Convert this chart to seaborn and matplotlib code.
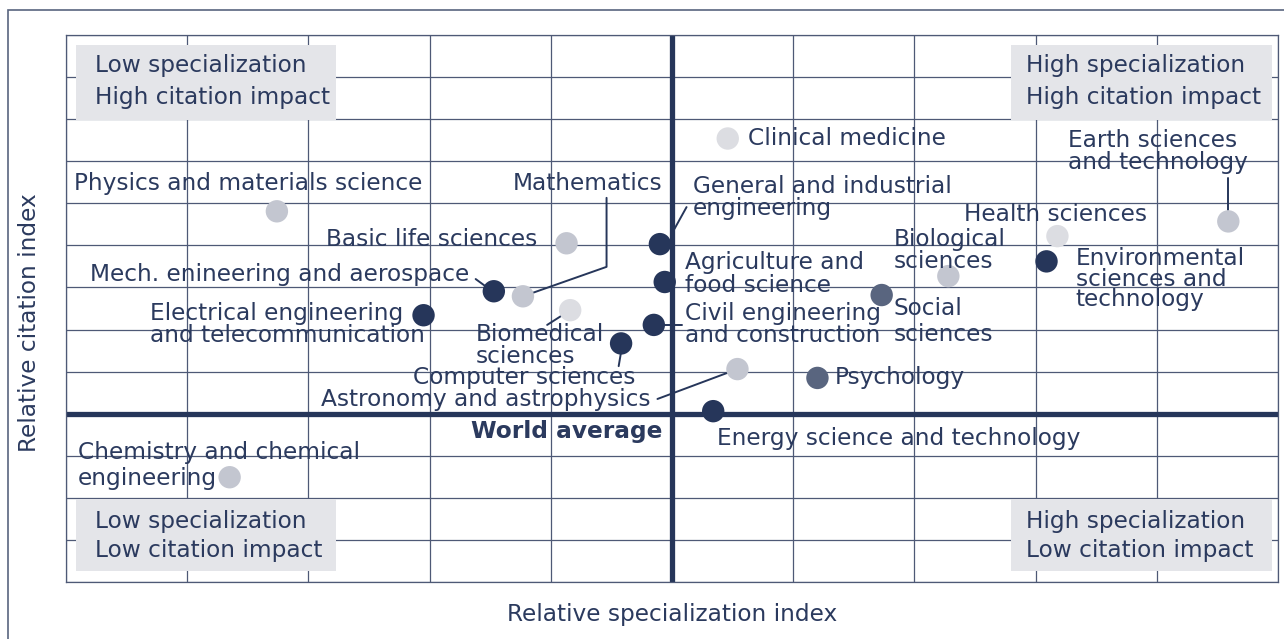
import matplotlib
matplotlib.use("Agg")
import matplotlib.pyplot as plt
import seaborn as sns
import pandas as pd
from matplotlib.patches import Rectangle
from matplotlib.lines import Line2D

# ---------------- data ----------------
fields = [
    "Clinical medicine", "Physics and materials science", "Basic life sciences",
    "General and industrial engineering", "Agriculture and food science",
    "Mech. enineering and aerospace", "Mathematics", "Biomedical sciences",
    "Electrical engineering and telecommunication", "Civil engineering and construction",
    "Computer sciences", "Astronomy and astrophysics", "Energy science and technology",
    "Psychology", "Social sciences", "Biological sciences", "Health sciences",
    "Environmental sciences and technology", "Earth sciences and technology",
    "Chemistry and chemical engineering",
]
specialization = [0.46, -3.26, -0.87, -0.10, -0.06, -1.47, -1.23, -0.84, -2.05, -0.15,
                  -0.42, 0.54, 0.34, 1.20, 1.73, 2.28, 3.18, 3.09, 4.59, -3.65]
citation = [6.54, 4.81, 4.05, 4.03, 3.13, 2.91, 2.79, 2.46, 2.34, 2.11,
            1.67, 1.06, 0.06, 0.85, 2.82, 3.27, 4.22, 3.62, 4.57, -1.51]
group = ["light", "gray", "gray", "dark", "dark", "dark", "gray", "light", "dark", "dark",
         "dark", "gray", "dark", "mid", "mid", "gray", "light", "dark", "gray", "gray"]

# label text, anchor (x, y), horizontal alignment, line spacing
labels = [
    ("Clinical medicine", 0.63, 6.53, "left", 1.0),
    ("Earth sciences\nand technology", 3.27, 6.24, "left", 0.95),
    ("Physics and materials science", -4.93, 5.46, "left", 1.0),
    ("Mathematics", -0.08, 5.46, "right", 1.0),
    ("General and industrial\nengineering", 0.17, 5.14, "left", 0.95),
    ("Health sciences", 2.41, 4.74, "left", 1.0),
    ("Basic life sciences", -1.11, 4.13, "right", 1.0),
    ("Biological\nsciences", 1.83, 3.87, "left", 0.95),
    ("Environmental\nsciences and\ntechnology", 3.33, 3.20, "left", 0.87),
    ("Agriculture and\nfood science", 0.11, 3.32, "left", 0.95),
    ("Mech. enineering and aerospace", -1.67, 3.30, "right", 1.0),
    ("Electrical engineering\nand telecommunication", -4.31, 2.13, "left", 0.95),
    ("Social\nsciences", 1.83, 2.19, "left", 1.17),
    ("Civil engineering\nand construction", 0.11, 2.13, "left", 0.95),
    ("Biomedical\nsciences", -1.62, 1.61, "left", 0.95),
    ("Computer sciences", -2.14, 0.85, "left", 1.0),
    ("Astronomy and astrophysics", -0.18, 0.33, "right", 1.0),
    ("Psychology", 1.34, 0.85, "left", 1.0),
    ("Energy science and technology", 0.37, -0.60, "left", 1.0),
    ("Chemistry and chemical\nengineering", -4.90, -1.23, "left", 1.17),
]

# leader lines (polyline vertices)
leaders = [
    [(4.59, 5.60), (4.59, 4.84)],
    [(-0.54, 5.13), (-0.54, 3.49), (-1.23, 2.79)],
    [(0.12, 4.91), (0.02, 4.39)],
    [(-1.62, 3.20), (-1.53, 3.01)],
    [(-0.15, 2.11), (0.08, 2.11)],
    [(-1.03, 2.11), (-0.84, 2.46)],
    [(-0.44, 1.13), (-0.42, 1.47)],
    [(-0.12, 0.35), (0.54, 1.06)],
]

quadrants = [
    ("Low specialization", "High citation impact", "tl"),
    ("High specialization", "High citation impact", "tr"),
    ("Low specialization", "Low citation impact", "bl"),
    ("High specialization", "Low citation impact", "br"),
]

# ---------------- style ----------------
sns.set_theme(style="white")
plt.rcParams["font.family"] = ["DejaVu Sans"]

NAVY = "#26365a"
TEXT = "#2b3a5e"
GRID = "#4e5976"
palette = {"dark": "#26365a", "mid": "#59657f", "gray": "#c3c6d0", "light": "#dcdde2"}
FS = 16.75

fig = plt.figure(figsize=(12.84, 6.39), dpi=100)
ax = fig.add_axes([66 / 1284, 1 - 582 / 639, (1278 - 66) / 1284, (582 - 35) / 639])

# outer frame
fig.patches.append(Rectangle((8 / 1284, -0.1), 1.2, 1 - 10 / 639 + 0.1,
                             transform=fig.transFigure, fill=False,
                             edgecolor="#59657f", linewidth=1.2, zorder=0))

ax.set_xlim(-5, 5)
ax.set_ylim(-4, 9)
ax.set_xticks(range(-5, 6))
ax.set_yticks(range(-4, 10))
ax.set_xticklabels([])
ax.set_yticklabels([])
ax.tick_params(length=0)
ax.grid(True, color=GRID, linewidth=0.9, zorder=0)
for s in ax.spines.values():
    s.set_color(GRID)
    s.set_linewidth(0.9)
    s.set_visible(True)

ax.axvline(0, color=NAVY, linewidth=3.8, zorder=1)
ax.axhline(0, color=NAVY, linewidth=3.8, zorder=1)

# quadrant boxes
box_geo = {"tl": (-4.92, 6.98, "l", 8.27, 7.51), "tr": (2.80, 6.98, "r", 8.27, 7.51),
           "bl": (-4.92, -3.74, "l", -2.57, -3.26), "br": (2.80, -3.74, "r", -2.57, -3.26)}
for l1, l2, key in quadrants:
    x0, y0, side, ty1, ty2 = box_geo[key]
    h = 1.79 if key in ("tl", "tr") else 1.71
    ax.add_patch(Rectangle((x0, y0), 2.15, h, facecolor="#e4e5e9", edgecolor="none", zorder=2))
    tx = x0 + 0.16 if side == "l" else x0 + 0.12
    ax.text(tx, ty1, l1, fontsize=FS, color=TEXT, va="center", ha="left", zorder=3)
    ax.text(tx, ty2, l2, fontsize=FS, color=TEXT, va="center", ha="left", zorder=3)

# points
df = pd.DataFrame({"field": fields, "spec": specialization, "cit": citation, "group": group})
sns.scatterplot(data=df, x="spec", y="cit", hue="group", palette=palette, s=260,
                edgecolor="none", legend=False, ax=ax, zorder=4)
ax.set_xlabel("")
ax.set_ylabel("")

# labels
for text, x, y, ha, ls in labels:
    ax.text(x, y, text, fontsize=FS, color=TEXT, ha=ha, va="center",
            linespacing=ls, zorder=5)
ax.text(-0.08, -0.43, "World average", fontsize=FS, color=TEXT, ha="right",
        va="center", fontweight="bold", zorder=5)

for pts in leaders:
    xs, ys = zip(*pts)
    ax.add_line(Line2D(xs, ys, color=NAVY, linewidth=1.4, zorder=3))

fig.text(672 / 1284, 1 - 615 / 639, "Relative specialization index", fontsize=FS,
         color=TEXT, ha="center", va="center")
fig.text(30 / 1284, 1 - 323 / 639, "Relative citation index", fontsize=FS,
         color=TEXT, ha="center", va="center", rotation=90)

fig.savefig("out.png", dpi=100)
